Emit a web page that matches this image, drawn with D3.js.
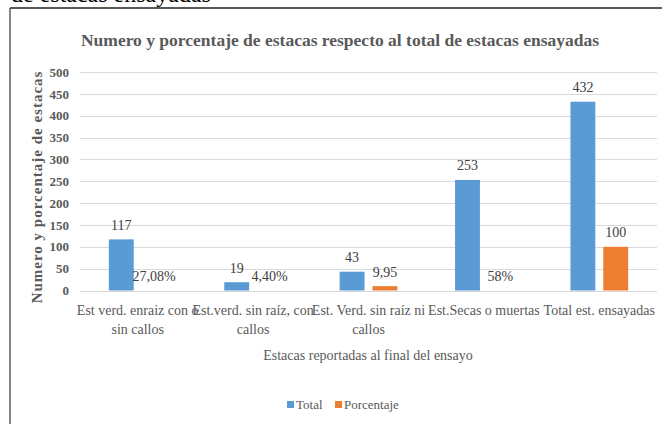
<!DOCTYPE html>
<html><head><meta charset="utf-8">
<script src="https://cdn.jsdelivr.net/npm/d3@7"></script>
<style>
html,body{margin:0;padding:0;background:#fff;overflow:hidden;}
svg{display:block;}
svg text{font-family:"Liberation Serif","Times New Roman","DejaVu Serif",serif !important;}
</style></head>
<body>
<svg id="chart" width="662" height="424"></svg>
<script>
// ---- data ----
const categories = [
  ["Est verd. enraiz con o", "sin callos"],
  ["Est.verd. sin raíz, con", "callos"],
  ["Est. Verd. sin raíz ni", "callos"],
  ["Est.Secas o muertas"],
  ["Total est. ensayadas"]
];
const seriesNames = ["Total", "Porcentaje"];
const totalValues = [117, 19, 43, 253, 432];
const porcentajeValues = [0, 0, 9.95, 0, 100];
const totalLabels = ["117", "19", "43", "253", "432"];
const porcentajeLabels = ["27,08%", "4,40%", "9,95", "58%", "100"];
const yTicks = [0, 50, 100, 150, 200, 250, 300, 350, 400, 450, 500];
const colors = ["#5b9bd5", "#ed7d31"];

const FONT = "Liberation Serif, Times New Roman, serif";
const svg = d3.select("#chart");

// clipped heading text from the page above
svg.append("text").attr("x", 11).attr("y", 2)
  .attr("font-size", 24).attr("fill", "#000").attr("font-family", FONT)
  .text("de estacas ensayadas");

// chart frame
svg.append("line").attr("x1", 10).attr("x2", 662).attr("y1", 8).attr("y2", 8)
  .attr("stroke", "#222").attr("stroke-width", 1.3);
svg.append("line").attr("x1", 10).attr("x2", 10).attr("y1", 8).attr("y2", 424)
  .attr("stroke", "#444").attr("stroke-width", 1.3);

const plot = {left: 80, right: 657, top: 72, bottom: 290.5};

const y = d3.scaleLinear().domain([0, 500]).range([plot.bottom, plot.top]);
const x0 = d3.scaleBand().domain(d3.range(categories.length))
  .range([plot.left, plot.right]).paddingInner(0.5).paddingOuter(0.25);
const x1 = d3.scaleBand().domain(seriesNames)
  .range([0, x0.bandwidth()]).paddingInner(0.242).paddingOuter(0);

// gridlines
svg.append("g").selectAll("line").data(yTicks).join("line")
  .attr("x1", plot.left).attr("x2", plot.right)
  .attr("y1", d => Math.round(y(d)) + 0.5).attr("y2", d => Math.round(y(d)) + 0.5)
  .attr("stroke", "#d9d9d9").attr("stroke-width", 1);

// y axis labels
const yAxis = d3.axisLeft(y).tickValues(yTicks).tickSize(0).tickPadding(0);
const gy = svg.append("g").attr("transform", `translate(${plot.left - 11},0)`).call(yAxis)
  .attr("font-family", FONT);
gy.select(".domain").remove();
gy.selectAll("text").attr("font-size", 13).attr("font-weight", "bold")
  .attr("fill", "#595959").attr("font-family", FONT);

// bars
const data = categories.map((c, i) => ({i, vals: [totalValues[i], porcentajeValues[i]], labs: [totalLabels[i], porcentajeLabels[i]]}));
const groups = svg.append("g").selectAll("g").data(data).join("g")
  .attr("transform", d => `translate(${x0(d.i)},0)`);
groups.selectAll("rect").data(d => d.vals.map((v, k) => ({v, k, s: seriesNames[k]}))).join("rect")
  .attr("x", d => x1(d.s)).attr("width", x1.bandwidth())
  .attr("y", d => y(d.v)).attr("height", d => y(0) - y(d.v))
  .attr("fill", d => colors[d.k]);
groups.selectAll("text").data(d => d.vals.map((v, k) => ({v, k, s: seriesNames[k], lab: d.labs[k]}))).join("text")
  .attr("x", d => x1(d.s) + x1.bandwidth() / 2).attr("y", d => y(d.v) - 9.5)
  .attr("text-anchor", "middle").attr("font-size", 14).attr("fill", "#404040")
  .attr("font-family", FONT)
  .text(d => d.lab);

// x axis tick labels
const gx = svg.append("g");
categories.forEach((lines, i) => {
  const t = gx.append("text").attr("x", x0(i) + x0.bandwidth() / 2).attr("y", 315)
    .attr("text-anchor", "middle").attr("font-size", 14).attr("fill", "#595959")
    .attr("font-family", FONT);
  lines.forEach((ln, j) => t.append("tspan").attr("x", x0(i) + x0.bandwidth() / 2).attr("dy", j === 0 ? 0 : 19).text(ln));
});

// title
svg.append("text").attr("x", 340).attr("y", 46).attr("text-anchor", "middle")
  .attr("font-size", 17.5).attr("font-weight", "bold").attr("fill", "#595959")
  .attr("font-family", FONT)
  .text("Numero y porcentaje de estacas respecto al total de estacas ensayadas");

// y axis title
svg.append("text").attr("transform", "translate(42,187) rotate(-90)")
  .attr("text-anchor", "middle").attr("font-size", 15).attr("font-weight", "bold")
  .attr("letter-spacing", 1).attr("fill", "#595959").attr("font-family", FONT)
  .text("Numero y porcentaje de estacas");

// x axis title
svg.append("text").attr("x", 368).attr("y", 360).attr("text-anchor", "middle")
  .attr("font-size", 14).attr("fill", "#595959").attr("font-family", FONT)
  .text("Estacas reportadas al final del ensayo");

// legend
const legend = svg.append("g");
const legendX = [287, 335];
seriesNames.forEach((s, k) => {
  legend.append("rect").attr("x", legendX[k]).attr("y", 401).attr("width", 7).attr("height", 7).attr("fill", colors[k]);
  legend.append("text").attr("x", legendX[k] + 9).attr("y", 409).attr("font-size", 13)
    .attr("fill", "#595959").attr("font-family", FONT).text(s);
});
</script>
</body></html>
